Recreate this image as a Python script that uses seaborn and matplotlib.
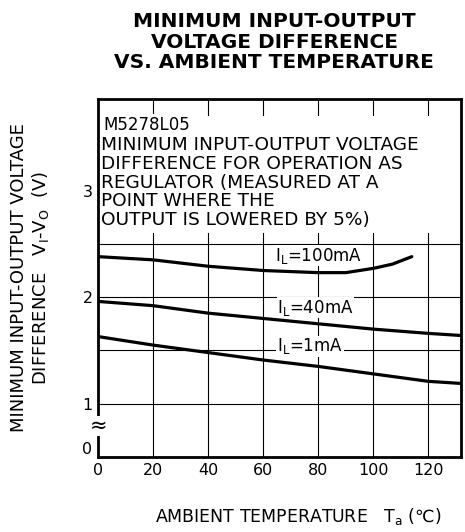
import pandas as pd
import matplotlib
matplotlib.use('Agg')
import matplotlib.pyplot as plt
from matplotlib.patches import Rectangle
import seaborn as sns

sns.set_style('white')
plt.rcParams['font.family'] = ['DejaVu Sans']
plt.rcParams['mathtext.default'] = 'regular'
plt.rcParams['text.color'] = 'black'
plt.rcParams['axes.labelcolor'] = 'black'
plt.rcParams['xtick.color'] = 'black'
plt.rcParams['ytick.color'] = 'black'

# values
temp_100 = [0, 20, 40, 60, 80, 90, 100, 107, 114]
volt_100 = [2.38, 2.35, 2.29, 2.25, 2.23, 2.23, 2.27, 2.31, 2.38]
temp_40 = [0, 20, 40, 60, 80, 100, 120, 132]
volt_40 = [1.96, 1.92, 1.85, 1.80, 1.75, 1.70, 1.66, 1.64]
temp_1 = [0, 20, 40, 60, 80, 100, 120, 132]
volt_1 = [1.63, 1.55, 1.48, 1.41, 1.35, 1.28, 1.21, 1.19]
loads = ['100mA', '40mA', '1mA']
xticks = [0, 20, 40, 60, 80, 100, 120]
yticks = [0.58, 1, 2, 3]
ytick_labels = ['0', '1', '2', '3']

df = pd.concat([
    pd.DataFrame({'Ta': temp_100, 'V': volt_100, 'Load': loads[0]}),
    pd.DataFrame({'Ta': temp_40, 'V': volt_40, 'Load': loads[1]}),
    pd.DataFrame({'Ta': temp_1, 'V': volt_1, 'Load': loads[2]}),
])

fig = plt.figure(figsize=(4.65, 5.32), dpi=100)
ax = fig.add_axes([0.211, 0.141, 0.781, 0.673])

plot = sns.lineplot(x='Ta', y='V', hue='Load', data=df, ax=ax, estimator=None,
                    palette=['black'] * 3, linewidth=2.3, legend=False, zorder=3)

ax.set(xlim=(0, 132), ylim=(0.5, 3.86))
ax.set_xticks(xticks)
ax.set_yticks(yticks)
ax.set_yticklabels(ytick_labels)
for x in xticks[1:]:
    ax.axvline(x, color='black', lw=0.8, zorder=1)
for y in [1, 1.5, 2, 2.5, 3]:
    ax.axhline(y, color='black', lw=0.8, zorder=1)
ax.tick_params(length=0, labelsize=11.5, pad=4)
for s in ax.spines.values():
    s.set_linewidth(2)
    s.set_color('black')

# white note area near the top
ax.add_patch(Rectangle((0, 0.626), 1, 0.325, transform=ax.transAxes,
                       facecolor='white', edgecolor='none', zorder=2))
ax.text(2, 3.62, 'M5278L05', fontsize=12, va='center', ha='left', zorder=4,
        bbox=dict(facecolor='white', edgecolor='none', pad=1))
ax.text(1, 3.51, 'MINIMUM INPUT-OUTPUT VOLTAGE\nDIFFERENCE FOR OPERATION AS\n'
        'REGULATOR (MEASURED AT A\nPOINT WHERE THE\nOUTPUT IS LOWERED BY 5%)',
        fontsize=13.3, va='top', ha='left', linespacing=1.05, zorder=4)

ax.text(80, 2.39, 'I$_L$=100mA', fontsize=12, ha='center', va='center', zorder=4,
        bbox=dict(facecolor='white', edgecolor='none', pad=0.5))
ax.text(79, 1.90, 'I$_L$=40mA', fontsize=12, ha='center', va='center', zorder=4,
        bbox=dict(facecolor='white', edgecolor='none', pad=0.5))
ax.text(77, 1.54, 'I$_L$=1mA', fontsize=12, ha='center', va='center', zorder=4,
        bbox=dict(facecolor='white', edgecolor='none', pad=0.5))

# axis break mark
ax.text(0, 0.79, '\u2248', fontsize=15, ha='center', va='center', zorder=6,
        clip_on=False, bbox=dict(facecolor='white', edgecolor='none', pad=0))

ax.set_xlabel('AMBIENT TEMPERATURE   T$_a$ (\u2103)', fontsize=12.5)
ax.xaxis.set_label_coords(0.55, -0.137)
ax.set_ylabel('MINIMUM INPUT-OUTPUT VOLTAGE\nDIFFERENCE   V$_I$-V$_O$  (V)',
              fontsize=13, linespacing=1.1)
ax.yaxis.set_label_coords(-0.13, 0.5)

fig.text(0.59, 0.978, 'MINIMUM INPUT-OUTPUT\nVOLTAGE DIFFERENCE\nVS. AMBIENT TEMPERATURE',
         fontsize=14.5, fontweight='bold', ha='center', va='top', linespacing=1.12)

fig.savefig('out.png', dpi=100)
